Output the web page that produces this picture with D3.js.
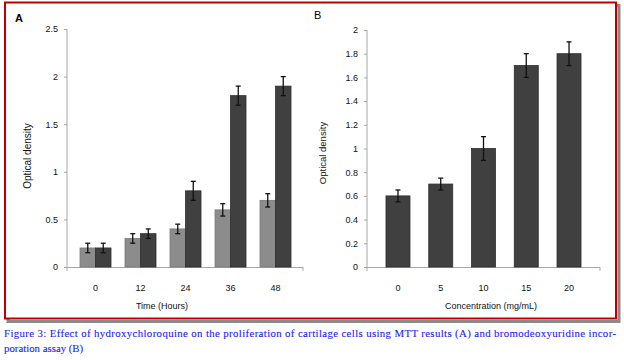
<!DOCTYPE html>
<html><head><meta charset="utf-8">
<script src="https://cdn.jsdelivr.net/npm/d3@7"></script>
<style>body{margin:0;background:#fff}svg{display:block}</style>
</head><body>
<svg id="c" width="624" height="360"></svg>
<script>
// Panel A data
const timeCats = ["0","12","24","36","48"];
const seriesLight = [0.2, 0.3, 0.4, 0.6, 0.7];
const errLight = [0.05, 0.05, 0.05, 0.065, 0.07];
const seriesDark = [0.2, 0.35, 0.8, 1.8, 1.9];
const errDark = [0.05, 0.05, 0.1, 0.1, 0.1];
const yTicksA = [0, 0.5, 1, 1.5, 2, 2.5];
// Panel B data
const concCats = ["0","5","10","15","20"];
const concValues = [0.6, 0.7, 1.0, 1.7, 1.8];
const concErr = [0.05, 0.05, 0.1, 0.1, 0.1];
const yTicksB = [0, 0.2, 0.4, 0.6, 0.8, 1, 1.2, 1.4, 1.6, 1.8, 2];
const caption1 = "Figure 3: Effect of hydroxychloroquine on the proliferation of cartilage cells using MTT results (A) and bromodeoxyuridine incor-";
const caption2 = "poration assay (B)";

const svg = d3.select("#c");
const font = "'Liberation Sans', Arial, sans-serif";
const axisCol = "#a6a6a6";

// frame with shadow
svg.append("rect").attr("x",8).attr("y",5.5).attr("width",611).attr("height",316).attr("fill","none").attr("stroke","#8a8a8a").attr("stroke-width",3);
svg.append("rect").attr("x",5).attr("y",2.5).attr("width",611).attr("height",316).attr("fill","#fff").attr("stroke","#c00000").attr("stroke-width",2);

function panel(cfg){
  const g = svg.append("g");
  const y = d3.scaleLinear().domain([0, cfg.ymax]).range([267, cfg.ytop]);
  const x = d3.scaleBand().domain(cfg.cats).range(cfg.bandRange);
  g.append("line").attr("x1",cfg.ax0).attr("x2",cfg.ax0).attr("y1",y(cfg.ymax)).attr("y2",267).attr("stroke",axisCol).attr("stroke-width",1);
  const ya = d3.axisLeft(y).tickValues(cfg.yticks).tickSize(3).tickPadding(6).tickFormat(d=>String(+d.toFixed(1)));
  const yg = g.append("g").attr("transform",`translate(${cfg.ax0},0)`).call(ya);
  yg.select(".domain").remove();
  yg.selectAll("line").attr("stroke",axisCol);
  yg.selectAll("text").attr("font-family",font).attr("font-size",9).attr("fill","#111");
  g.append("line").attr("x1",cfg.ax0).attr("x2",cfg.ax1).attr("y1",267.5).attr("y2",267.5).attr("stroke",axisCol).attr("stroke-width",1.2);
  [cfg.ax0, cfg.ax1].forEach(v=>g.append("line").attr("x1",v).attr("x2",v).attr("y1",267).attr("y2",271).attr("stroke",axisCol));
  const xa = d3.axisBottom(x).tickSize(0).tickPadding(18);
  const xg = g.append("g").attr("transform","translate(0,267)").call(xa);
  xg.select(".domain").remove();
  xg.selectAll("text").attr("font-family",font).attr("font-size",9).attr("fill","#111");
  cfg.series.forEach((s,si)=>{
    const bw = cfg.barW;
    const off = cfg.offsets[si];
    g.selectAll(null).data(s.values).join("rect")
      .attr("x",(d,i)=>x(cfg.cats[i]) + x.bandwidth()/2 + off)
      .attr("y",d=>y(d)).attr("width",bw).attr("height",d=>267-y(d))
      .attr("fill",s.color).attr("stroke",s.stroke).attr("stroke-width",0.8);
    g.selectAll(null).data(s.values).join("g").each(function(d,i){
      const cx = x(cfg.cats[i]) + x.bandwidth()/2 + off + bw/2;
      const e = s.err[i];
      const gg = d3.select(this);
      gg.append("line").attr("x1",cx).attr("x2",cx).attr("y1",y(d+e)).attr("y2",y(d-e)).attr("stroke","#111").attr("stroke-width",1.3);
      [d+e,d-e].forEach(v=>gg.append("line").attr("x1",cx-2.5).attr("x2",cx+2.5).attr("y1",y(v)).attr("y2",y(v)).attr("stroke","#111").attr("stroke-width",1.3));
    });
  });
  g.append("text").attr("transform",`translate(${cfg.ylabX},${cfg.ylabY}) rotate(-90)`).attr("text-anchor","middle")
    .attr("font-family",font).attr("font-size",cfg.ylabSize).attr("fill","#111").text("Optical density");
  g.append("text").attr("x",cfg.xlabX).attr("y",309).attr("text-anchor","middle")
    .attr("font-family",font).attr("font-size",9).attr("fill","#111").text(cfg.xlab);
  g.append("text").attr("x",cfg.letterX).attr("y",cfg.letterY).attr("font-family",font).attr("font-size",11)
    .attr("font-weight",cfg.letterW).attr("fill","#000").text(cfg.letter);
}

panel({cats:timeCats, ymax:2.5, ytop:29, yticks:yTicksA, bandRange:[73,298], ax0:67, ax1:303,
  series:[{values:seriesLight, err:errLight, color:"#8c8c8c", stroke:"#7a7a7a"},
          {values:seriesDark, err:errDark, color:"#404040", stroke:"#2e2e2e"}],
  barW:15.5, offsets:[-15.5,0], ylabX:31, ylabY:156, ylabSize:10, xlabX:162, xlab:"Time (Hours)",
  letter:"A", letterX:15, letterY:22, letterW:"bold"});

panel({cats:concCats, ymax:2, ytop:30, yticks:yTicksB, bandRange:[376.6,590.4], ax0:367, ax1:600,
  series:[{values:concValues, err:concErr, color:"#404040", stroke:"#2e2e2e"}],
  barW:24, offsets:[-12], ylabX:326, ylabY:153, ylabSize:9.5, xlabX:491, xlab:"Concentration (mg/mL)",
  letter:"B", letterX:314, letterY:18.5, letterW:"normal"});

const cap = svg.append("g").attr("font-family","'Liberation Serif', 'DejaVu Serif', serif").attr("font-size",10.8)
  .attr("fill","#1c1cf0").attr("stroke","#1c1cf0").attr("stroke-width",0.1);
cap.append("text").attr("x",4).attr("y",336.5).attr("textLength",612).attr("lengthAdjust","spacing").text(caption1);
cap.append("text").attr("x",4).attr("y",352).text(caption2);
</script>
</body></html>
